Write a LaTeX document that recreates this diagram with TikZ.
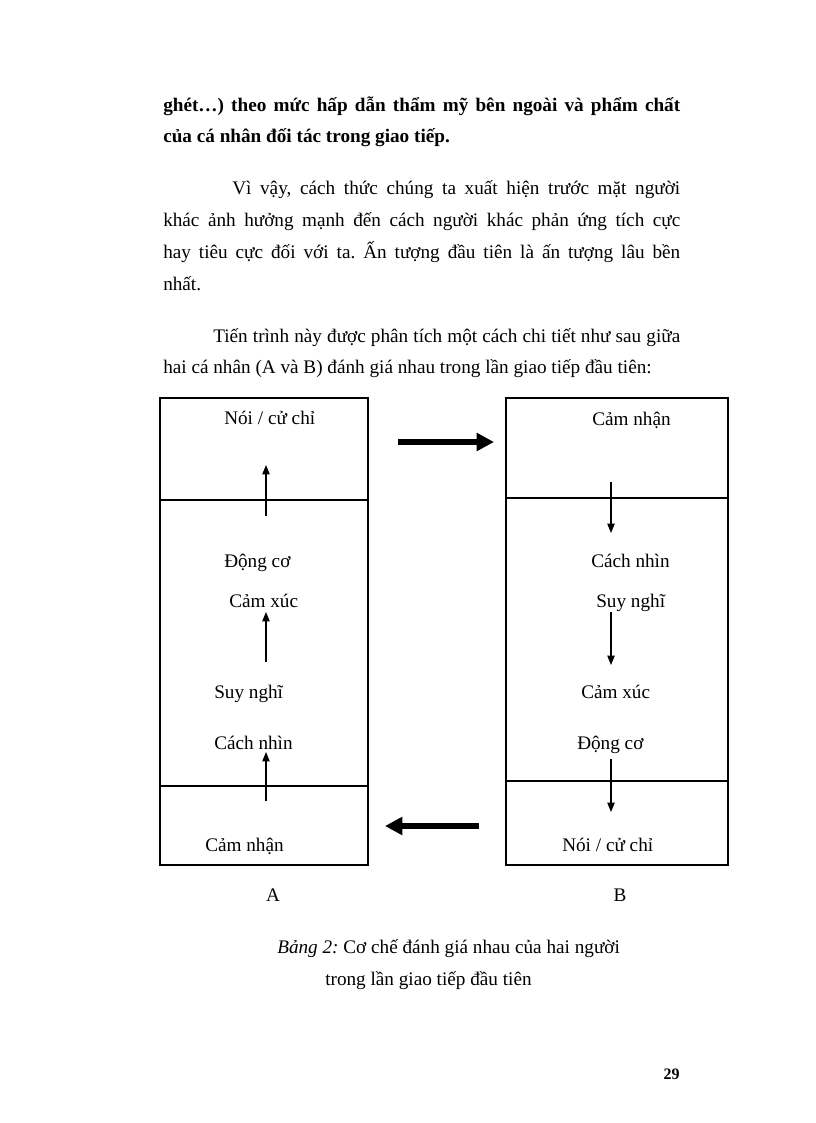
\documentclass[tikz,border=0pt]{standalone}
\usepackage{fontspec}
\setmainfont{Liberation Serif}
\usetikzlibrary{arrows.meta}
\frenchspacing
\newcommand\jline[2]{\hbox to #1pt{#2}}
\newcommand\fs{\fontsize{14.4}{17}\selectfont}
\begin{document}
\begin{tikzpicture}[x=0.75pt,y=-0.75pt,
  txt/.style={inner sep=0pt,anchor=base west,font=\fs},
  lbl/.style={inner sep=0pt,anchor=base west,font=\fs},
  frame/.style={line width=1.3pt},
  thin/.style={line width=0.9pt,-{Triangle[length=7pt,width=5.5pt]}},
  thick/.style={line width=4pt,-{Triangle[length=13pt,width=13pt]}}]
\useasboundingbox (0,0) rectangle (816,1123);
% text lines
\node[txt,font=\fs\bfseries] (t1) at (163,112) {\jline{387.75}{ghét…) theo mức hấp dẫn thẩm mỹ bên ngoài và phẩm chất}};
\node[txt,font=\fs\bfseries] (t2) at (163,143) {của cá nhân đối tác trong giao tiếp.};
\node[txt] (t3) at (232,195) {\jline{336}{Vì vậy, cách thức chúng ta xuất hiện trước mặt người}};
\node[txt] (t4) at (163,227) {\jline{387.75}{khác ảnh hưởng mạnh đến cách người khác phản ứng tích cực}};
\node[txt] (t5) at (163,258) {\jline{387.75}{hay tiêu cực đối với ta. Ấn tượng đầu tiên là ấn tượng lâu bền}};
\node[txt] (t6) at (163,290) {nhất.};
\node[txt] (t7) at (213,342) {\jline{350.25}{Tiến trình này được phân tích một cách chi tiết như sau giữa}};
\node[txt] (t8) at (163,373) {hai cá nhân (A và B) đánh giá nhau trong lần giao tiếp đầu tiên:};
% boxes
\coordinate (LA) at (160,398); \coordinate (LB) at (368,865);
\coordinate (RA) at (506,398); \coordinate (RB) at (728,865);
\draw[frame] (LA) rectangle (LB);
\draw[frame] (RA) rectangle (RB);
\coordinate (l1a) at (160,500); \coordinate (l1b) at (368,500);
\coordinate (l2a) at (160,786); \coordinate (l2b) at (368,786);
\coordinate (r1a) at (506,498); \coordinate (r1b) at (728,498);
\coordinate (r2a) at (506,781); \coordinate (r2b) at (728,781);
\draw[frame] (l1a) -- (l1b);
\draw[frame] (l2a) -- (l2b);
\draw[frame] (r1a) -- (r1b);
\draw[frame] (r2a) -- (r2b);
% left labels
\node[lbl] (aN) at (224,424) {Nói / cử chỉ};
\node[lbl] (aD) at (224,567) {Động cơ};
\node[lbl] (aC) at (229,607) {Cảm xúc};
\node[lbl] (aS) at (214,698) {Suy nghĩ};
\node[lbl] (aV) at (214,749) {Cách nhìn};
\node[lbl] (aP) at (205,851) {Cảm nhận};
% right labels
\node[lbl] (bP) at (592,425) {Cảm nhận};
\node[lbl] (bV) at (591,567) {Cách nhìn};
\node[lbl] (bS) at (596,607) {Suy nghĩ};
\node[lbl] (bC) at (581,698) {Cảm xúc};
\node[lbl] (bD) at (577,749) {Động cơ};
\node[lbl] (bN) at (562,851) {Nói / cử chỉ};
\node[lbl,anchor=base] (A) at (273,901) {A};
\node[lbl,anchor=base] (B) at (620,901) {B};
% thin arrows
\coordinate (ua1) at (266,516); \coordinate (ua2) at (266,465);
\coordinate (ub1) at (266,662); \coordinate (ub2) at (266,612);
\coordinate (uc1) at (266,801); \coordinate (uc2) at (266,752);
\coordinate (da1) at (611,482); \coordinate (da2) at (611,533);
\coordinate (db1) at (611,612); \coordinate (db2) at (611,665);
\coordinate (dc1) at (611,759); \coordinate (dc2) at (611,812);
\draw[thin] (ua1) -- (ua2);
\draw[thin] (ub1) -- (ub2);
\draw[thin] (uc1) -- (uc2);
\draw[thin] (da1) -- (da2);
\draw[thin] (db1) -- (db2);
\draw[thin] (dc1) -- (dc2);
% thick arrows
\coordinate (ta1) at (398,442); \coordinate (ta2) at (494,442);
\coordinate (tb1) at (479,826); \coordinate (tb2) at (385,826);
\draw[thick] (ta1) -- (ta2);
\draw[thick] (tb1) -- (tb2);
% caption
\node[txt] (cap1) at (277,953) {\textit{Bảng 2:} Cơ chế đánh giá nhau của hai người};
\node[txt] (cap2) at (325,985) {trong lần giao tiếp đầu tiên};
\node[txt,anchor=base east,font=\fontsize{12}{14}\selectfont\bfseries] (pg) at (680,1079) {29};
\end{tikzpicture}
\end{document}
